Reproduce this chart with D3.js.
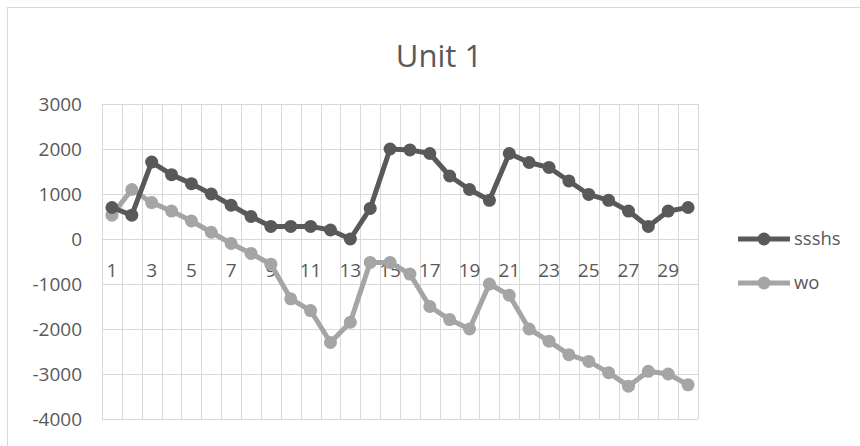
<!DOCTYPE html>
<html>
<head>
<meta charset="utf-8">
<script src="https://cdn.jsdelivr.net/npm/d3@7"></script>
<style>
  body { margin:0; background:#fff; }
  text { font-family: "Open Sans", "Noto Sans", sans-serif; fill:#595959; }
</style>
</head>
<body>
<div id="canvas"></div>
<script>
// data
var categories = d3.range(1, 31);
var ssshs = [700, 530, 1710, 1430, 1230, 1000, 750, 500, 280, 280, 280, 200, 0, 680, 2000,
             1980, 1900, 1400, 1100, 860, 1900, 1700, 1590, 1290, 990, 860, 620, 280, 620, 700];
var wo = [530, 1100, 810, 620, 400, 150, -100, -320, -560, -1330, -1590, -2300, -1850, -520, -520,
          -780, -1500, -1790, -2000, -1000, -1250, -2000, -2270, -2570, -2720, -2970, -3270, -2940, -3000, -3240];
var yTicks = [3000, 2000, 1000, 0, -1000, -2000, -3000, -4000];
var xLabels = categories.filter(function(d){ return d % 2 === 1; });
var seriesNames = ['ssshs', 'wo'];
var seriesColors = ['#595959', '#a5a5a5'];

var W = 860, H = 446;
var m = {t:104, r:162, b:27, l:102};
var w = W - m.l - m.r, h = H - m.t - m.b;

var svg = d3.select('#canvas').append('svg')
    .attr('width', W).attr('height', H);

// outer chart border
svg.append('rect')
    .attr('x', 7.5).attr('y', 7.5)
    .attr('width', 900).attr('height', 500)
    .attr('fill', 'none').attr('stroke', '#d9d9d9');

svg.append('text')
    .attr('x', 439).attr('y', 67)
    .attr('text-anchor', 'middle')
    .style('font-size', '31px')
    .text('Unit 1');

var plot = svg.append('g')
    .attr('transform', 'translate(' + m.l + ',' + m.t + ')');

var scaleX = d3.scaleBand().domain(categories).range([0, w]);
var scaleY = d3.scaleLinear().domain([-4000, 3000]).range([h, 0]);

// vertical gridlines on category boundaries
var bounds = categories.map(function(c){ return scaleX(c); }).concat([w]);
plot.selectAll('.vgrid').data(bounds).enter().append('line')
    .attr('class', 'vgrid')
    .attr('x1', function(d){ return Math.round(d) + 0.5; })
    .attr('x2', function(d){ return Math.round(d) + 0.5; })
    .attr('y1', 0).attr('y2', h)
    .attr('stroke', '#d9d9d9');

// horizontal gridlines + y labels (plain hyphen like excel)
var axisY = d3.axisLeft(scaleY).tickValues(yTicks)
    .tickFormat(function(d){ return String(d); })
    .tickSize(-w).tickPadding(20);
var gy = plot.append('g').attr('class', 'axis axis-y').call(axisY);
gy.select('.domain').remove();
gy.selectAll('line').attr('stroke', '#d9d9d9');
gy.selectAll('text').style('font-size', '19px').attr('fill', '#595959');

// category labels hanging under the zero line
plot.selectAll('.xlab').data(xLabels).enter().append('text')
    .attr('class', 'xlab')
    .attr('x', function(d){ return scaleX(d) + scaleX.bandwidth()/2; })
    .attr('y', scaleY(0) + 38)
    .attr('text-anchor', 'middle')
    .style('font-size', '19px')
    .text(function(d){ return d; });

var allSeries = [ssshs, wo];
var line = d3.line()
    .x(function(d, i){ return scaleX(categories[i]) + scaleX.bandwidth()/2; })
    .y(function(d){ return scaleY(d); });

// light series drawn first so dark sits on top
[1, 0].forEach(function(s){
    var vals = allSeries[s];
    plot.append('path')
        .datum(vals)
        .attr('d', line)
        .attr('fill', 'none')
        .attr('stroke', seriesColors[s])
        .attr('stroke-width', 5)
        .attr('stroke-linejoin', 'round');
    plot.selectAll('.pt' + s).data(vals).enter().append('circle')
        .attr('class', 'pt' + s)
        .attr('cx', function(d, i){ return scaleX(categories[i]) + scaleX.bandwidth()/2; })
        .attr('cy', function(d){ return scaleY(d); })
        .attr('r', 6.5)
        .attr('fill', seriesColors[s]);
});

// legend
var legend = svg.append('g').attr('transform', 'translate(738,239)');
seriesNames.forEach(function(name, i){
    var g = legend.append('g').attr('transform', 'translate(0,' + (i * 44) + ')');
    g.append('line').attr('x1', 0).attr('x2', 52).attr('y1', 0).attr('y2', 0)
        .attr('stroke', seriesColors[i]).attr('stroke-width', 5);
    g.append('circle').attr('cx', 26).attr('cy', 0).attr('r', 6.5).attr('fill', seriesColors[i]);
    g.append('text').attr('x', 56).attr('y', 0).attr('dy', '0.35em')
        .style('font-size', '18.5px').text(name);
});
</script>
</body>
</html>
